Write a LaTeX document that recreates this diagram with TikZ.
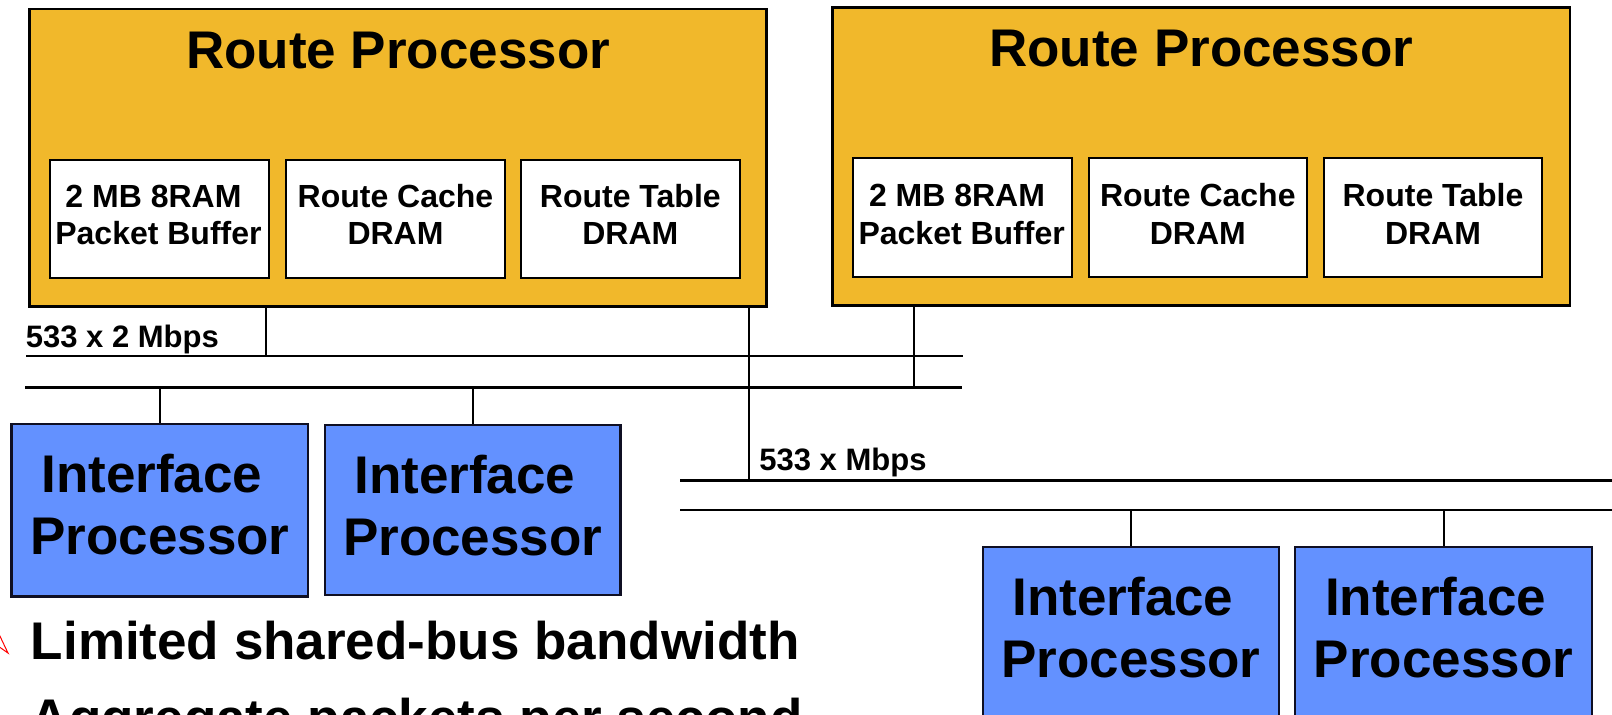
\documentclass[tikz,border=0pt]{standalone}
\usepackage{fontspec}
\setmainfont{Liberation Sans}
\usetikzlibrary{fit}
\definecolor{rpfill}{RGB}{241,184,43}
\definecolor{ipfill}{RGB}{99,145,255}
\definecolor{ipline}{RGB}{15,15,35}
\begin{document}
\begin{tikzpicture}[x=0.5pt,y=-0.5pt,
  rpbox/.style={draw=black, line width=1.4pt, fill=rpfill, inner sep=0pt},
  membox/.style={draw=black, line width=1pt, fill=white, inner sep=0pt},
  ipbox/.style={draw=ipline, line width=1.3pt, fill=ipfill, inner sep=0pt},
  bigtxt/.style={anchor=base, inner sep=0pt, font=\fontsize{26.5pt}{30pt}\selectfont\bfseries},
  memtxt/.style={anchor=base, inner sep=0pt, font=\fontsize{16pt}{18pt}\selectfont\bfseries},
  bustxt/.style={anchor=base west, inner sep=0pt, font=\fontsize{15.5pt}{18pt}\selectfont\bfseries},
  bus/.style={line width=1.35pt},
  stub/.style={line width=1pt},
]
\useasboundingbox (0,0) rectangle (1612,714);
\clip (0,0) rectangle (1612,714);

% ---- route processors ----
\node (rp1) [rpbox, fit={(29.6,9) (766.8,306.5)}] {};
\node (rp2) [rpbox, fit={(832.6,7.5) (1570,305.5)}] {};
\node (rp1t) [bigtxt] at (398.2,68.3) {Route Processor};
\node (rp2t) [bigtxt] at (1201.3,66) {Route Processor};

% memories of the first route processor
\node (m11) [membox, fit={(50,160.3) (269,277.7)}] {};
\node (m12) [membox, fit={(286,160.3) (505,277.7)}] {};
\node (m13) [membox, fit={(520.5,160.3) (740,277.7)}] {};
\node (m11a) [memtxt] at (153.5,207) {2 MB 8RAM};
\node (m11b) [memtxt] at (158.5,244) {Packet Buffer};
\node (m12a) [memtxt] at (395.5,207) {Route Cache};
\node (m12b) [memtxt] at (395.5,244) {DRAM};
\node (m13a) [memtxt] at (630.3,207) {Route Table};
\node (m13b) [memtxt] at (630.3,244) {DRAM};

% memories of the second route processor
\node (m21) [membox, fit={(852.8,158.3) (1071.5,276.7)}] {};
\node (m22) [membox, fit={(1088.7,158.3) (1306.9,276.7)}] {};
\node (m23) [membox, fit={(1324,158.3) (1542,276.7)}] {};
\node (m21a) [memtxt] at (957,206) {2 MB 8RAM};
\node (m21b) [memtxt] at (961.7,244) {Packet Buffer};
\node (m22a) [memtxt] at (1197.8,206) {Route Cache};
\node (m22b) [memtxt] at (1197.8,244) {DRAM};
\node (m23a) [memtxt] at (1433,206) {Route Table};
\node (m23b) [memtxt] at (1433,244) {DRAM};

% ---- buses ----
\coordinate (busAul) at (26,356);
\coordinate (busAur) at (963,356);
\coordinate (busAll) at (25,387.5);
\coordinate (busAlr) at (962,387.5);
\coordinate (busBul) at (680,480.7);
\coordinate (busBur) at (1625,480.7);
\coordinate (busBll) at (680,510);
\coordinate (busBlr) at (1625,510);
\draw[bus] (busAul) -- (busAur);
\draw[bus] (busAll) -- (busAlr);
\draw[bus] (busBul) -- (busBur);
\draw[bus] (busBll) -- (busBlr);
\node (busA) [bustxt] at (25.5,347) {533 x 2 Mbps};
\node (busB) [bustxt] at (759,470) {533 x Mbps};

% ---- interface processors ----
\node (ip1) [ipbox, fit={(11.7,424) (308,596.3)}] {};
\node (ip2) [ipbox, fit={(325,425) (620.6,595)}] {};
\node (ip3) [ipbox, fit={(983,547) (1279,719)}] {};
\node (ip4) [ipbox, fit={(1295,547) (1592,719)}] {};
\node (ip1a) [bigtxt] at (151.9,492) {Interface};
\node (ip1b) [bigtxt] at (159.9,554) {Processor};
\node (ip2a) [bigtxt] at (464.8,493) {Interface};
\node (ip2b) [bigtxt] at (472.8,555) {Processor};
\node (ip3a) [bigtxt] at (1123,615) {Interface};
\node (ip3b) [bigtxt] at (1131,677) {Processor};
\node (ip4a) [bigtxt] at (1435.5,615) {Interface};
\node (ip4b) [bigtxt] at (1443.5,677) {Processor};

% ---- taps onto the buses ----
\coordinate (tapa) at (266,0);
\coordinate (tapb) at (749,0);
\coordinate (tapc) at (914.4,0);
\draw[stub] (rp1.south -| tapa) -- (busAul -| tapa);
\draw[stub] (rp1.south -| tapb) -- (busBul -| tapb);
\draw[stub] (rp2.south -| tapc) -- (busAll -| tapc);
\draw[stub] (ip1.north) -- (ip1.north |- busAll);
\draw[stub] (ip2.north) -- (ip2.north |- busAll);
\draw[stub] (ip3.north) -- (ip3.north |- busBll);
\draw[stub] (ip4.north) -- (ip4.north |- busBll);

% ---- bullet points ----
\draw[red, line width=0.5pt] (-2,632) -- (8,653) -- (-2,646);
\node (lim) [bigtxt, anchor=base west] at (30.5,659.3) {Limited shared-bus bandwidth};
\node (agg) [bigtxt, anchor=base west] at (30.5,736) {Aggregate packets per second};
\end{tikzpicture}
\end{document}
